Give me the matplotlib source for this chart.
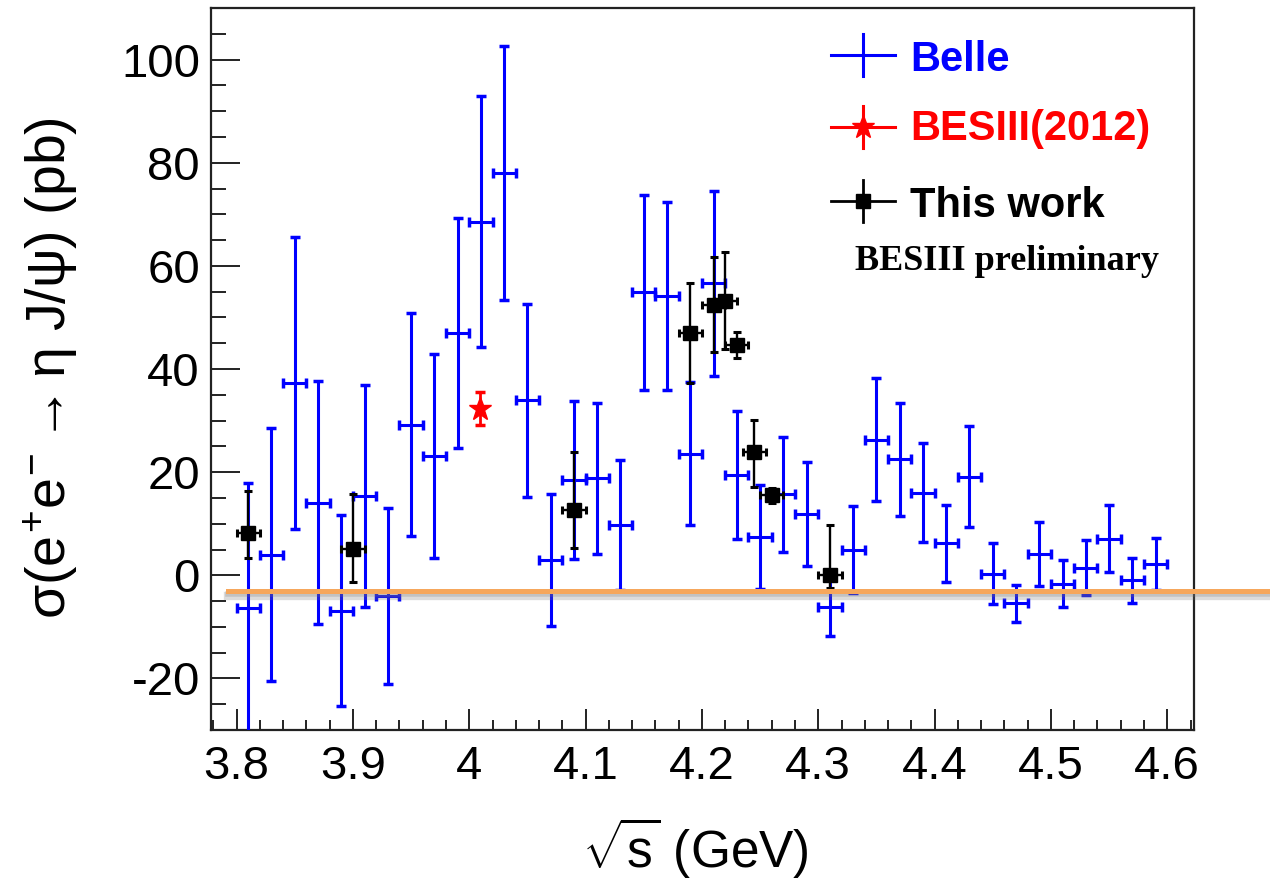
import matplotlib
matplotlib.use("Agg")
import matplotlib.pyplot as plt
from matplotlib.ticker import MultipleLocator, FuncFormatter
from matplotlib.lines import Line2D
from matplotlib.transforms import blended_transform_factory
import matplotlib.patheffects as pe

plt.rcParams['font.family'] = ['Liberation Sans', 'DejaVu Sans']
plt.rcParams['mathtext.fontset'] = 'custom'
plt.rcParams['mathtext.rm'] = 'Liberation Sans'
plt.rcParams['mathtext.it'] = 'Liberation Sans'
plt.rcParams['mathtext.bf'] = 'Liberation Sans:bold'

# ---------------- data ----------------
belle_x = [3.81, 3.83, 3.85, 3.87, 3.89, 3.91, 3.93, 3.95, 3.97, 3.99,
           4.01, 4.03, 4.05, 4.07, 4.09, 4.11, 4.13, 4.15, 4.17, 4.19,
           4.21, 4.23, 4.25, 4.27, 4.29, 4.31, 4.33, 4.35, 4.37, 4.39,
           4.41, 4.43, 4.45, 4.47, 4.49, 4.51, 4.53, 4.55, 4.57, 4.59]
belle_y = [-6.4, 4.0, 37.3, 14.1, -6.9, 15.4, -4.0, 29.2, 23.2, 46.9,
           68.6, 78.0, 33.9, 3.0, 18.5, 18.8, 9.7, 54.9, 54.2, 23.6,
           56.6, 19.4, 7.5, 15.7, 11.9, -6.1, 5.0, 26.3, 22.5, 16.0,
           6.2, 19.1, 0.3, -5.4, 4.1, -1.6, 1.5, 7.1, -1.0, 2.2]
belle_err = [24.3, 24.5, 28.3, 23.5, 18.5, 21.5, 17.0, 21.6, 19.8, 22.3,
             24.4, 24.7, 18.7, 12.8, 15.3, 14.7, 12.6, 18.9, 18.2, 13.9,
             18.0, 12.4, 10.1, 11.2, 10.1, 5.6, 8.5, 11.9, 11.0, 9.6,
             7.5, 9.8, 5.9, 3.6, 6.2, 4.6, 5.4, 6.5, 4.3, 5.1]
belle_xerr = 0.01

bes12_x = [4.009]
bes12_y = [32.3]
bes12_err = [3.2]

work_x = [3.81, 3.90, 4.09, 4.19, 4.21, 4.22, 4.23, 4.245, 4.26, 4.31]
work_y = [8.2, 5.1, 12.6, 46.9, 52.4, 53.2, 44.7, 23.9, 15.5, 0.0]
work_lo = [4.8, 6.4, 7.3, 9.7, 9.2, 9.4, 2.6, 6.7, 1.4, 2.5]
work_hi = [8.1, 10.6, 11.3, 9.7, 9.4, 9.4, 2.5, 6.3, 1.4, 9.7]
work_xerr = 0.01

legend_labels = ["Belle", "BESIII(2012)", "This work"]
legend_colors = ["#0000FF", "#FF0000", "#000000"]
note_text = "BESIII preliminary"
xlabel = r"$\sqrt{s}$ (GeV)"
ylabel = r"$\sigma(e^{+}e^{-}\rightarrow\eta\ J/\psi)$ (pb)"
orange_line_y = -3.0

# ---------------- figure ----------------
W, H = 1270, 881
fig = plt.figure(figsize=(W / 100, H / 100), dpi=100)
ax = fig.add_axes([211 / W, (H - 730) / H, 983 / W, 722 / H])

ax.errorbar(belle_x, belle_y, yerr=belle_err, xerr=belle_xerr, fmt='none',
            ecolor='#0000FF', elinewidth=2.2, capsize=3.5, capthick=2.5, zorder=3)
ax.errorbar(work_x, work_y, yerr=[work_lo, work_hi], xerr=work_xerr, fmt='s',
            color='black', markersize=10, elinewidth=1.7, capsize=3.0,
            capthick=2.2, zorder=4)
ax.errorbar(bes12_x, bes12_y, yerr=bes12_err, fmt='*', color='#FF0000',
            markersize=17, elinewidth=2.0, capsize=3.5, capthick=2.5, zorder=4)

ax.set_xlim(3.778, 4.623)
ax.set_ylim(-30, 110)

ax.xaxis.set_major_locator(MultipleLocator(0.1))
ax.xaxis.set_minor_locator(MultipleLocator(0.02))
ax.yaxis.set_major_locator(MultipleLocator(20))
ax.yaxis.set_minor_locator(MultipleLocator(5))
ax.xaxis.set_major_formatter(FuncFormatter(lambda v, p: f"{v:g}"))
ax.yaxis.set_major_formatter(FuncFormatter(lambda v, p: f"{v:g}"))

ax.tick_params(axis='both', which='both', direction='in', top=False, right=False,
               width=1.4, color='#222222')
ax.tick_params(axis='y', which='major', length=21, labelsize=34, pad=8)
ax.tick_params(axis='y', which='minor', length=11)
ax.tick_params(axis='x', which='major', length=15, labelsize=34, pad=11)
ax.tick_params(axis='x', which='minor', length=7)
for s in ax.spines.values():
    s.set_linewidth(1.6)
    s.set_color('#222222')

ax.set_xlabel(xlabel, fontsize=37)
ax.xaxis.set_label_coords((695 - 211) / 983, (730 - 848) / 722)
ax.xaxis.label.set_verticalalignment('center')
ax.set_ylabel(ylabel, fontsize=40)
ax.yaxis.set_label_coords((51 - 211) / 983, (730 - 368) / 722)
ax.yaxis.label.set_verticalalignment('center')

# ---------------- legend (drawn by hand, ROOT style) ----------------
def fx(px):
    return (px - 211) / 983

def fy(py):
    return (730 - py) / 722

row_centers = [55, 127, 201]
row_baselines = [70.7, 140, 216.7]
markers = [None, '*', 's']
msizes = [0, 17, 10]
for lab, col, yc, yb, mk, ms in zip(legend_labels, legend_colors, row_centers,
                                    row_baselines, markers, msizes):
    lw = 2.2 if col != '#000000' else 2.0
    ax.add_line(Line2D([fx(831), fx(895)], [fy(yc), fy(yc)], color=col, lw=lw,
                       transform=ax.transAxes, clip_on=False))
    ax.add_line(Line2D([fx(863), fx(863)], [fy(yc - 21), fy(yc + 21)], color=col,
                       lw=lw, transform=ax.transAxes, clip_on=False))
    if mk is not None:
        ax.add_line(Line2D([fx(863)], [fy(yc)], marker=mk, markersize=ms, color=col,
                           transform=ax.transAxes, clip_on=False, linestyle='none'))
    ax.text(fx(910), fy(yb), lab, transform=ax.transAxes, color=col,
            fontsize=30, fontweight='bold', ha='left', va='baseline')

ax.text(fx(855), fy(270), note_text, transform=ax.transAxes, color='black',
        fontsize=26, fontweight='bold', family=['Liberation Serif', 'DejaVu Serif'],
        ha='left', va='baseline')

# ---------------- orange overlay line ----------------
trans = blended_transform_factory(fig.transFigure, ax.transData)
oline = Line2D([228 / W, 1.0], [orange_line_y, orange_line_y], transform=trans,
               color='#F6A75C', lw=3.6, clip_on=False, zorder=10,
               path_effects=[pe.SimpleLineShadow(offset=(0, -4), shadow_color='#777777',
                                                 alpha=0.25, linewidth=6),
                             pe.SimpleLineShadow(offset=(0, -2.5), shadow_color='#777777',
                                                 alpha=0.25, linewidth=4),
                             pe.Normal()])
fig.add_artist(oline)

fig.savefig("out.png", dpi=100)
